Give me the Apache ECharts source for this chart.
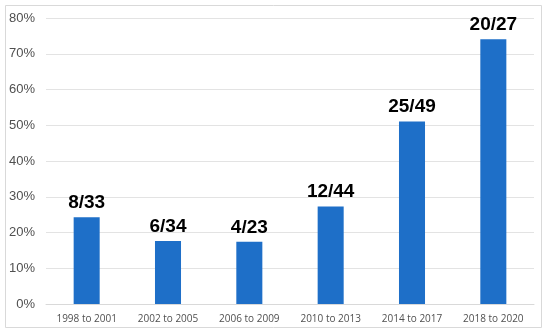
<!DOCTYPE html>
<html><head><meta charset="utf-8">
<script src="https://cdn.jsdelivr.net/npm/echarts@6/dist/echarts.min.js"></script>
<style>html,body{margin:0;padding:0;background:#fff}#c{width:550px;height:336px}</style>
</head><body><div id="c"></div>
<script>
const categories = ["1998 to 2001","2002 to 2005","2006 to 2009","2010 to 2013","2014 to 2017","2018 to 2020"];
const numerators = [8,6,4,12,25,20];
const denominators = [33,34,23,44,49,27];
const values = [24.24,17.65,17.39,27.27,51.02,74.07];
const yTicks = [0,10,20,30,40,50,60,70,80];

const chart = echarts.init(document.getElementById('c'), null, {renderer:'canvas'});
chart.setOption({
  animation:false,
  backgroundColor:'#fff',
  graphic:[{type:'rect',shape:{x:5.5,y:5.5,width:536,height:322},style:{fill:'none',stroke:'#d9d9d9',lineWidth:1},silent:true}],
  grid:{left:46,right:16,top:18,bottom:32,containLabel:false},
  xAxis:{type:'category',data:categories,
    axisLine:{lineStyle:{color:'#d9d9d9'}},axisTick:{show:false},
    axisLabel:{color:'#505050',fontSize:10,fontFamily:'Open Sans',margin:10}},
  yAxis:{type:'value',min:0,max:80,interval:10,
    axisLine:{show:false},axisTick:{show:false},
    splitLine:{lineStyle:{color:'#e3e3e3'}},
    axisLabel:{color:'#505050',fontSize:13,fontFamily:'Liberation Sans',margin:11,formatter:v=>v+'%'}},
  series:[{type:'bar',data:values,barWidth:'32%',
    itemStyle:{color:'#1e6fc8'},
    label:{show:true,position:'top',distance:5,color:'#000',fontWeight:'bold',fontSize:19,fontFamily:'Liberation Sans',
      formatter:p=>numerators[p.dataIndex]+'/'+denominators[p.dataIndex]}}]
});
</script></body></html>
